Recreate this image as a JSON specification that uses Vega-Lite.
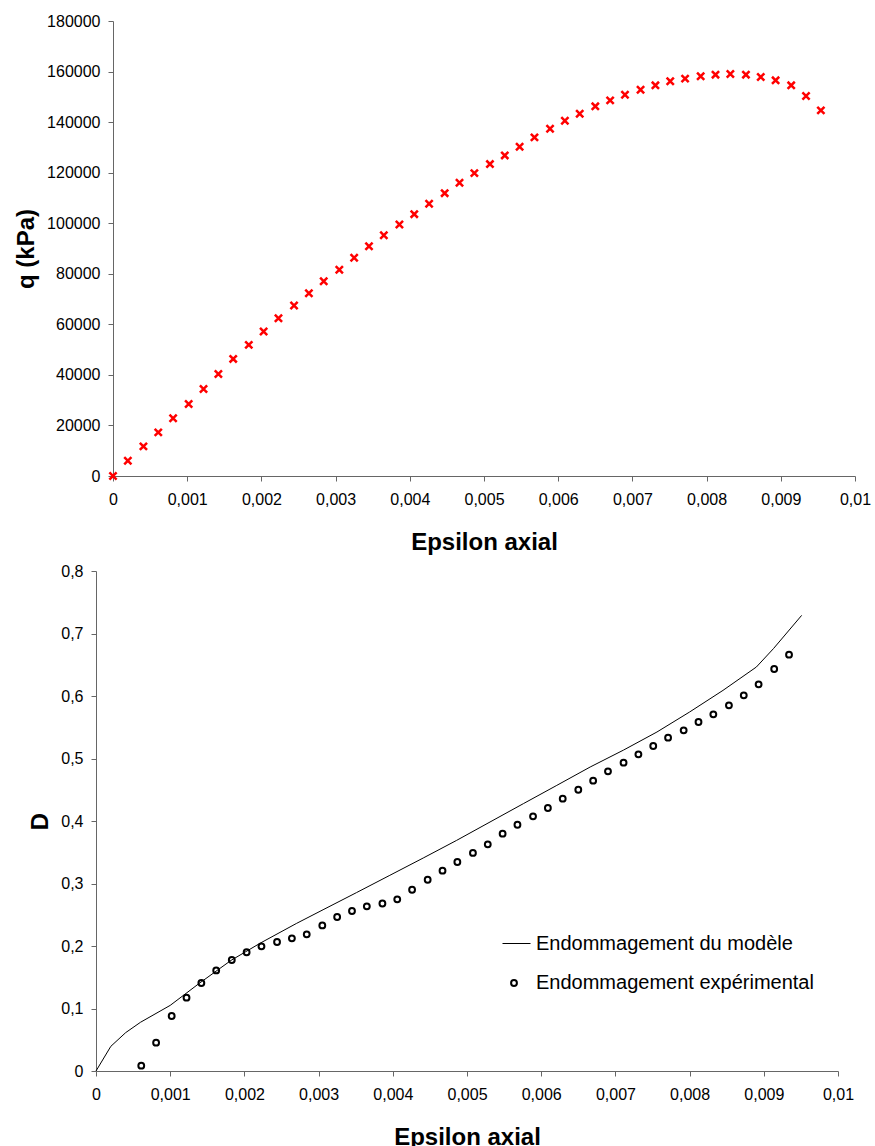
{
  "$schema": "https://vega.github.io/schema/vega-lite/v6.json",
  "padding": {"left": 14, "top": 13, "right": 5, "bottom": 0},
  "config": {
    "font": "Liberation Sans",
    "view": {"stroke": null},
    "axis": {
      "grid": false,
      "domainColor": "#666666",
      "tickColor": "#666666",
      "tickSize": 5,
      "labelFont": "Liberation Sans",
      "labelFontSize": 16,
      "labelColor": "#000000",
      "titleFont": "Liberation Sans",
      "titleFontSize": 24,
      "titleFontWeight": "bold",
      "titleColor": "#000000"
    },
    "legend": {
      "labelFont": "Liberation Sans",
      "labelFontSize": 20,
      "labelColor": "#000000",
      "labelLimit": 400,
      "padding": 0
    }
  },
  "spacing": 8,
  "vconcat": [
    {
      "width": 742,
      "height": 455,
      "data": {
        "values": [
          {"e": 0, "q": 0}, {"e": 0.0002, "q": 6060}, {"e": 0.00041, "q": 11720}, {"e": 0.00061, "q": 17260},
          {"e": 0.00081, "q": 22810}, {"e": 0.00102, "q": 28510}, {"e": 0.00122, "q": 34450}, {"e": 0.00142, "q": 40390},
          {"e": 0.00162, "q": 46330}, {"e": 0.00183, "q": 51870}, {"e": 0.00203, "q": 57140}, {"e": 0.00223, "q": 62400},
          {"e": 0.00244, "q": 67430}, {"e": 0.00264, "q": 72300}, {"e": 0.00284, "q": 77050}, {"e": 0.00305, "q": 81570},
          {"e": 0.00325, "q": 86320}, {"e": 0.00345, "q": 90920}, {"e": 0.00365, "q": 95270}, {"e": 0.00386, "q": 99510},
          {"e": 0.00406, "q": 103590}, {"e": 0.00426, "q": 107700}, {"e": 0.00447, "q": 111900}, {"e": 0.00467, "q": 116020},
          {"e": 0.00487, "q": 119820}, {"e": 0.00508, "q": 123390}, {"e": 0.00528, "q": 126830}, {"e": 0.00548, "q": 130280},
          {"e": 0.00568, "q": 133960}, {"e": 0.00589, "q": 137400}, {"e": 0.00609, "q": 140570}, {"e": 0.00629, "q": 143330},
          {"e": 0.0065, "q": 146230}, {"e": 0.0067, "q": 148600}, {"e": 0.0069, "q": 150860}, {"e": 0.00711, "q": 152840},
          {"e": 0.00731, "q": 154540}, {"e": 0.00751, "q": 156130}, {"e": 0.00771, "q": 157200}, {"e": 0.00792, "q": 158110},
          {"e": 0.00812, "q": 158780}, {"e": 0.00832, "q": 159020}, {"e": 0.00853, "q": 158780}, {"e": 0.00873, "q": 157830},
          {"e": 0.00893, "q": 156520}, {"e": 0.00914, "q": 154540}, {"e": 0.00934, "q": 150310}, {"e": 0.00954, "q": 144640}
        ]
      },
      "mark": {"type": "point", "shape": "M-1,-1L1,1M-1,1L1,-1", "filled": false, "stroke": "#ff0000", "strokeWidth": 2.5, "size": 52, "opacity": 1},
      "encoding": {
        "x": {
          "field": "e", "type": "quantitative",
          "scale": {"domain": [0, 0.01], "nice": false, "zero": false},
          "axis": {
            "title": "Epsilon axial",
            "values": [0, 0.001, 0.002, 0.003, 0.004, 0.005, 0.006, 0.007, 0.008, 0.009, 0.01],
            "labelExpr": "replace(format(datum.value, '~g'), '.', ',')",
            "labelFlush": false,
            "labelOverlap": false,
            "labelPadding": 10,
            "titleY": 73.5,
            "titleBaseline": "alphabetic"
          }
        },
        "y": {
          "field": "q", "type": "quantitative",
          "scale": {"domain": [0, 180000], "nice": false},
          "axis": {
            "title": "q (kPa)",
            "values": [0, 20000, 40000, 60000, 80000, 100000, 120000, 140000, 160000, 180000],
            "labelExpr": "replace(format(datum.value, '~g'), '.', ',')",
            "labelOverlap": false,
            "labelPadding": 8,
            "titleX": -80,
            "titleBaseline": "alphabetic"
          }
        }
      }
    },
    {
      "width": 742,
      "height": 500,
      "encoding": {
        "x": {
          "field": "e", "type": "quantitative",
          "scale": {"domain": [0, 0.01], "nice": false, "zero": false, "range": [-17, 725]},
          "axis": {
            "title": "Epsilon axial",
            "values": [0, 0.001, 0.002, 0.003, 0.004, 0.005, 0.006, 0.007, 0.008, 0.009, 0.01],
            "labelExpr": "replace(format(datum.value, '~g'), '.', ',')",
            "labelFlush": false,
            "labelOverlap": false,
            "labelPadding": 10,
            "titleY": 73,
            "titleBaseline": "alphabetic"
          }
        },
        "y": {
          "field": "D", "type": "quantitative",
          "scale": {"domain": [0, 0.8], "nice": false},
          "axis": {
            "title": "D",
            "offset": 17,
            "values": [0, 0.1, 0.2, 0.3, 0.4, 0.5, 0.6, 0.7, 0.8],
            "labelExpr": "replace(format(datum.value, '~g'), '.', ',')",
            "labelOverlap": false,
            "labelPadding": 8,
            "titleX": -49,
            "titleBaseline": "alphabetic"
          }
        }
      },
      "layer": [
        {
          "data": {
            "values": [
              {"e": 0, "D": 0}, {"e": 0.0002, "D": 0.0395}, {"e": 0.0004, "D": 0.0614}, {"e": 0.0006, "D": 0.078},
              {"e": 0.001, "D": 0.105}, {"e": 0.0014, "D": 0.141}, {"e": 0.00182, "D": 0.177}, {"e": 0.00222, "D": 0.205},
              {"e": 0.0027, "D": 0.236}, {"e": 0.00306, "D": 0.258}, {"e": 0.00351, "D": 0.2854}, {"e": 0.00396, "D": 0.3131},
              {"e": 0.00441, "D": 0.3408}, {"e": 0.00486, "D": 0.369}, {"e": 0.00531, "D": 0.3984}, {"e": 0.00576, "D": 0.4278},
              {"e": 0.00621, "D": 0.457}, {"e": 0.00666, "D": 0.4864}, {"e": 0.00711, "D": 0.5135}, {"e": 0.00756, "D": 0.5424},
              {"e": 0.008, "D": 0.5744}, {"e": 0.00845, "D": 0.609}, {"e": 0.0089, "D": 0.6464}, {"e": 0.00913, "D": 0.6758},
              {"e": 0.00951, "D": 0.729}
            ]
          },
          "mark": {"type": "line", "strokeWidth": 1},
          "encoding": {
            "color": {
              "datum": "Endommagement du modèle",
              "scale": {"range": ["#000000"]},
              "legend": {
                "title": null, "orient": "none", "legendX": 389, "legendY": 908,
                "symbolType": "stroke", "symbolSize": 784, "symbolStrokeWidth": 1, "symbolStrokeColor": "#000000",
                "labelOffset": 5
              }
            }
          }
        },
        {
          "data": {
            "values": [
              {"e": 0.00061, "D": 0.0086}, {"e": 0.00081, "D": 0.0454}, {"e": 0.00102, "D": 0.088}, {"e": 0.00122, "D": 0.1174},
              {"e": 0.00142, "D": 0.1408}, {"e": 0.00162, "D": 0.161}, {"e": 0.00183, "D": 0.1776}, {"e": 0.00203, "D": 0.19},
              {"e": 0.00223, "D": 0.1995}, {"e": 0.00244, "D": 0.2064}, {"e": 0.00264, "D": 0.2123}, {"e": 0.00284, "D": 0.2187},
              {"e": 0.00305, "D": 0.233}, {"e": 0.00325, "D": 0.2464}, {"e": 0.00345, "D": 0.256}, {"e": 0.00365, "D": 0.2635},
              {"e": 0.00386, "D": 0.268}, {"e": 0.00406, "D": 0.2747}, {"e": 0.00426, "D": 0.29}, {"e": 0.00447, "D": 0.306},
              {"e": 0.00467, "D": 0.3206}, {"e": 0.00487, "D": 0.3344}, {"e": 0.00508, "D": 0.349}, {"e": 0.00528, "D": 0.3627},
              {"e": 0.00548, "D": 0.3798}, {"e": 0.00568, "D": 0.394}, {"e": 0.00589, "D": 0.4075}, {"e": 0.00609, "D": 0.4208},
              {"e": 0.00629, "D": 0.4358}, {"e": 0.0065, "D": 0.45}, {"e": 0.0067, "D": 0.4645}, {"e": 0.0069, "D": 0.4795},
              {"e": 0.00711, "D": 0.4934}, {"e": 0.00731, "D": 0.5067}, {"e": 0.00751, "D": 0.52}, {"e": 0.00771, "D": 0.5334},
              {"e": 0.00792, "D": 0.5451}, {"e": 0.00812, "D": 0.5584}, {"e": 0.00832, "D": 0.5707}, {"e": 0.00853, "D": 0.5851},
              {"e": 0.00873, "D": 0.6011}, {"e": 0.00893, "D": 0.6187}, {"e": 0.00914, "D": 0.6432}, {"e": 0.00934, "D": 0.6662}
            ]
          },
          "mark": {"type": "point", "filled": false, "stroke": "#000000", "strokeWidth": 2, "size": 34, "opacity": 1},
          "encoding": {
            "shape": {
              "datum": "Endommagement expérimental",
              "scale": {"range": ["circle"]},
              "legend": {
                "title": null, "orient": "none", "legendX": 391, "legendY": 952,
                "symbolSize": 34, "symbolStrokeWidth": 2, "symbolStrokeColor": "#000000", "symbolFillColor": "transparent",
                "labelOffset": 12
              }
            }
          }
        }
      ]
    }
  ]
}
